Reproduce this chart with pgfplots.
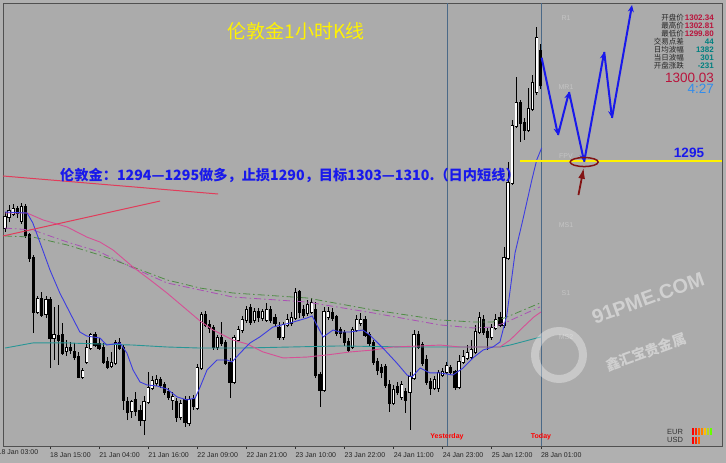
\documentclass[border=0pt]{standalone}
\usepackage{pgfplots}
\pgfplotsset{compat=1.18}
\usepackage{pgfplotstable}
\usepackage{fontspec}
\setmainfont{Liberation Sans}
\newfontfamily\cjk{Noto Sans CJK SC}
\usetikzlibrary{arrows.meta}

\definecolor{chartbg}{RGB}{171,171,171}
\definecolor{outerbg}{RGB}{176,176,176}
\definecolor{frameC}{RGB}{80,80,80}
\definecolor{maBlue}{RGB}{60,60,225}
\definecolor{maPink}{RGB}{214,80,150}
\definecolor{maTeal}{RGB}{40,150,150}
\definecolor{ddGreen}{RGB}{80,140,70}
\definecolor{ddPurple}{RGB}{170,80,180}
\definecolor{trendRed}{RGB}{225,60,90}
\definecolor{sepLine}{RGB}{75,105,135}
\definecolor{pivGray}{RGB}{196,196,196}
\definecolor{crimsonV}{RGB}{185,20,60}
\definecolor{tealV}{RGB}{0,128,128}
\definecolor{clockBlue}{RGB}{50,140,235}
\definecolor{darkArrow}{RGB}{130,20,20}
\definecolor{annBlue}{RGB}{25,25,235}

% hourly OHLC, i = bar index (0 = 18 Jan 04:00)
\pgfplotstableread{
i o h l c
0 1290.53 1291.60 1290.27 1291.27
1 1291.27 1292.07 1290.93 1291.67
2 1291.47 1292.13 1291.33 1291.80
3 1291.80 1292.00 1291.20 1291.53
4 1291.00 1292.20 1290.80 1291.93
5 1291.93 1292.13 1289.87 1290.07
6 1290.07 1290.20 1288.27 1288.53
7 1288.53 1288.73 1283.53 1284.93
8 1284.93 1286.00 1284.80 1285.80
9 1285.80 1286.27 1284.60 1284.73
10 1284.80 1286.00 1284.53 1285.73
11 1285.73 1285.93 1281.20 1283.20
12 1283.20 1285.27 1281.73 1283.40
13 1283.33 1285.40 1281.40 1283.07
14 1283.40 1284.20 1282.07 1282.20
15 1282.33 1283.07 1282.00 1282.53
16 1282.53 1282.93 1282.13 1282.40
17 1282.27 1282.87 1281.73 1281.93
18 1281.93 1282.27 1280.53 1280.60
19 1280.60 1281.20 1280.47 1281.00
20 1281.60 1283.07 1281.47 1282.53
21 1282.53 1283.53 1282.40 1283.40
22 1283.40 1283.60 1282.60 1282.73
23 1282.80 1283.20 1282.40 1282.53
24 1282.53 1282.87 1281.47 1281.60
25 1281.60 1281.93 1281.13 1281.27
26 1281.33 1282.27 1281.20 1281.53
27 1281.53 1283.07 1281.40 1282.87
28 1282.87 1283.20 1282.40 1282.53
29 1282.53 1282.73 1278.40 1279.07
30 1278.93 1279.27 1277.73 1278.27
31 1278.33 1279.07 1277.87 1278.93
32 1279.07 1279.60 1278.00 1278.33
33 1278.33 1278.73 1277.33 1277.73
34 1277.73 1279.33 1276.73 1278.93
35 1278.93 1280.93 1278.80 1279.87
36 1279.87 1280.67 1279.73 1280.33
37 1280.20 1280.73 1280.00 1280.40
38 1280.40 1280.60 1279.87 1280.07
39 1280.07 1280.27 1279.40 1279.60
40 1279.60 1279.87 1279.07 1279.27
41 1279.07 1279.60 1278.40 1279.27
42 1278.93 1279.20 1277.60 1277.93
43 1277.93 1279.07 1277.73 1278.80
44 1279.07 1279.33 1277.27 1277.60
45 1277.53 1279.33 1277.33 1279.07
46 1279.13 1279.40 1278.40 1278.67
47 1278.53 1281.47 1278.40 1281.20
48 1281.20 1284.93 1281.07 1284.73
49 1284.73 1285.00 1283.93 1284.07
50 1284.07 1284.40 1283.53 1283.87
51 1283.87 1284.07 1282.40 1282.60
52 1282.60 1283.40 1282.40 1283.20
53 1283.20 1284.27 1282.67 1282.87
54 1282.87 1283.07 1281.40 1281.53
55 1281.53 1281.87 1279.20 1280.27
56 1280.27 1283.40 1280.13 1283.20
57 1283.07 1284.00 1282.93 1283.73
58 1283.73 1284.67 1283.53 1284.40
59 1284.40 1285.33 1284.20 1285.07
60 1285.20 1285.47 1284.07 1284.27
61 1284.40 1285.20 1284.20 1284.93
62 1284.93 1285.20 1284.27 1284.60
63 1284.53 1285.13 1284.33 1284.93
64 1284.40 1285.53 1284.27 1285.07
65 1285.07 1285.33 1284.20 1284.40
66 1284.53 1284.80 1284.00 1284.20
67 1283.87 1284.27 1283.07 1283.27
68 1283.27 1284.27 1283.07 1284.07
69 1284.07 1284.80 1283.93 1284.40
70 1284.20 1284.93 1284.00 1284.53
71 1284.53 1286.53 1284.40 1286.20
72 1286.27 1286.40 1284.53 1284.93
73 1285.07 1285.40 1284.53 1284.73
74 1284.87 1285.73 1284.67 1285.40
75 1284.93 1285.87 1284.80 1285.53
76 1285.07 1285.60 1280.53 1280.73
77 1280.73 1280.93 1278.60 1279.73
78 1279.73 1285.27 1279.60 1284.93
79 1284.60 1285.27 1284.40 1284.93
80 1284.87 1285.20 1284.33 1284.53
81 1284.60 1284.73 1283.33 1283.53
82 1283.73 1283.93 1283.20 1283.53
83 1283.53 1283.73 1282.67 1282.93
84 1282.93 1283.20 1282.27 1282.40
85 1282.60 1283.93 1282.47 1283.73
86 1283.73 1284.73 1283.60 1284.40
87 1284.20 1284.87 1284.00 1284.40
88 1284.40 1284.67 1283.27 1283.40
89 1283.40 1283.60 1282.67 1282.87
90 1282.87 1283.07 1281.40 1281.60
91 1281.60 1281.87 1280.73 1281.07
92 1281.20 1281.47 1280.53 1280.93
93 1281.27 1281.47 1279.87 1280.07
94 1280.07 1280.40 1278.27 1278.87
95 1278.87 1280.07 1278.73 1279.73
96 1279.93 1280.27 1279.40 1279.60
97 1279.27 1280.33 1279.07 1280.07
98 1279.60 1279.87 1278.20 1279.07
99 1279.60 1280.93 1277.07 1280.60
100 1280.53 1283.73 1280.40 1283.40
101 1283.40 1283.67 1282.47 1282.60
102 1282.73 1282.93 1281.33 1281.53
103 1281.73 1282.07 1280.07 1280.27
104 1280.27 1280.53 1279.40 1279.87
105 1279.87 1280.67 1279.73 1280.40
106 1279.87 1281.07 1279.60 1280.87
107 1280.73 1281.20 1280.60 1280.93
108 1280.93 1281.60 1280.80 1281.33
109 1281.20 1281.40 1280.73 1280.93
110 1280.93 1281.07 1279.73 1279.93
111 1279.93 1282.07 1279.80 1281.60
112 1281.60 1282.40 1281.47 1281.93
113 1281.87 1282.73 1281.73 1282.20
114 1281.93 1283.07 1281.80 1282.40
115 1282.27 1284.07 1282.13 1283.60
116 1283.60 1284.93 1283.47 1284.53
117 1284.40 1284.73 1283.40 1283.60
118 1283.60 1283.87 1282.40 1283.27
119 1283.27 1284.13 1283.07 1283.87
120 1283.87 1284.80 1283.73 1284.40
121 1284.53 1284.93 1283.93 1284.07
122 1284.07 1289.27 1283.87 1288.53
123 1288.53 1294.93 1288.40 1293.53
124 1293.53 1297.73 1293.40 1297.33
125 1297.33 1300.60 1297.20 1298.87
126 1298.87 1299.07 1296.27 1297.53
127 1297.53 1297.87 1296.40 1297.07
128 1297.07 1299.87 1296.93 1298.47
129 1298.47 1300.73 1298.33 1300.20
130 1299.60 1303.93 1299.40 1303.20
131 1302.34 1302.81 1299.80 1300.03
}\candles

\begin{document}
\begin{tikzpicture}
\useasboundingbox (-3pt,-17pt) rectangle (723pt,446pt);
\clip (-3pt,-17pt) rectangle (723pt,446pt);
\fill[outerbg] (-3pt,-17pt) rectangle (723pt,446pt);
\begin{axis}[
    at={(0pt,0pt)}, anchor=south west,
    width=719pt, height=443pt, scale only axis,
    xmin=-0.49, xmax=175.3, ymin=1276, ymax=1305.533,
    axis background/.style={fill=chartbg},
    axis line style={draw=frameC, line width=0.8pt},
    ytick=\empty,
    xtick={11,23,...,131},
    xticklabels={18 Jan 15:00, 21 Jan 04:00, 21 Jan 16:00, 22 Jan 09:00, 22 Jan 21:00,
        23 Jan 10:00, 23 Jan 22:00, 24 Jan 11:00, 24 Jan 23:00, 25 Jan 12:00, 28 Jan 01:00},
    xtick pos=left,
    tick align=outside,
    major tick length=3pt,
    tick style={draw=black!80, line width=0.6pt},
    xticklabel style={anchor=north west, font=\fontsize{7}{8}\selectfont,
        text=black!85, inner sep=0pt, yshift=-3pt},
    clip=false,
]
% day separators
\draw[sepLine, line width=0.8pt] (axis cs:108.07,1276) -- (axis cs:108.07,1305.533);
\draw[sepLine, line width=0.8pt] (axis cs:131.2,1276) -- (axis cs:131.2,1305.533);

% candles: wicks, dark body, white inside for rising bars
\addplot[black, line width=0.8pt, quiver={u=0, v=\thisrow{h}-\thisrow{l}}]
    table[x=i, y=l] {\candles};
\addplot[black, line width=3.2pt, quiver={u=0, v={abs(\thisrow{c}-\thisrow{o})+0.08}}]
    table[x=i, y expr={min(\thisrow{o},\thisrow{c})-0.04}] {\candles};
\addplot[white, line width=1.6pt, quiver={u=0, v=\thisrow{c}-\thisrow{o}},
    x filter/.expression={\thisrow{c}>\thisrow{o} ? x : nan}]
    table[x=i, y=o] {\candles};

% dash-dot averages
\addplot[ddPurple, line width=0.8pt, dash pattern=on 7pt off 3pt on 1.5pt off 3pt] coordinates {
(0,1290.53) (6.8,1290.40) (15.2,1289.60) (23.2,1288.93) (31.3,1287.87) (39.6,1286.87)
(47.7,1286.40) (55.7,1285.93) (73.8,1285.60) (90.0,1284.87) (106.4,1284.07)
(114.4,1283.87) (119.3,1283.93) (122.7,1284.27) (130.8,1285.27)};
\addplot[ddGreen, line width=0.8pt, dash pattern=on 7pt off 3pt on 1.5pt off 3pt] coordinates {
(0,1290.00) (6.8,1289.93) (15.2,1289.40) (23.2,1288.73) (31.3,1287.93) (39.6,1287.07)
(47.7,1286.53) (55.7,1286.20) (73.8,1285.87) (90.0,1285.07) (106.4,1284.40)
(114.4,1284.27) (119.3,1284.27) (122.7,1284.60) (130.8,1285.53)};
% teal
\addplot[maTeal, line width=0.9pt] coordinates {
(0,1282.53) (6.8,1282.87) (15.2,1282.87) (23.2,1282.80) (31.3,1282.73) (39.6,1282.60)
(47.7,1282.53) (58,1282.53) (81.9,1282.67) (98.3,1282.60) (114.4,1282.60) (121,1282.60)
(123.5,1282.73) (131,1283.27)};
% pink
\addplot[maPink, line width=0.9pt] coordinates {
(0,1291.53) (5.4,1291.53) (9.3,1291.07) (15.2,1290.60) (20.0,1289.93) (23.2,1289.60)
(26.4,1289.07) (31.3,1287.93) (35.5,1287.07) (39.6,1286.20) (44.5,1285.07) (47.7,1284.33)
(50.9,1283.73) (55.7,1283.07) (59.2,1282.80) (63.1,1282.27) (68.0,1281.87) (73.8,1281.93)
(78.7,1282.07) (84.4,1282.27) (90.0,1282.40) (94.9,1282.60) (101.5,1282.67) (106.4,1282.73)
(111.2,1282.60) (116.1,1282.60) (121.0,1282.60) (123.5,1283.07) (126.7,1283.93)
(129.3,1284.60) (131.0,1284.93)};
% blue fast average
\addplot[maBlue, line width=0.9pt] coordinates {
(0,1291.60) (5.4,1291.53) (6.8,1290.87) (8.6,1289.53) (11.0,1287.73) (13.4,1286.20)
(15.9,1284.87) (18.3,1283.60) (20.0,1283.33) (23.2,1283.20) (24.9,1282.73) (28.1,1282.87)
(29.8,1282.20) (31.3,1281.07) (33.0,1280.27) (34.7,1280.07) (37.2,1280.00) (39.6,1279.80)
(42.1,1279.27) (44.5,1279.07) (46.5,1279.20) (47.7,1279.93) (49.4,1281.07) (51.8,1281.73)
(54.3,1281.73) (55.5,1281.60) (57.5,1282.20) (59.9,1282.87) (62.3,1283.27) (65.5,1283.93)
(69.7,1284.20) (73.8,1284.53) (75.1,1284.67) (76.5,1283.93) (77.8,1283.27) (80.2,1283.73)
(81.9,1283.60) (84.4,1283.60) (87.5,1283.73) (89.2,1283.40) (92.4,1282.53) (95.8,1281.53)
(98.3,1280.73) (99.5,1280.60) (101.5,1281.20) (103.9,1280.87) (106.4,1280.87) (109.5,1280.73)
(112.0,1281.20) (114.4,1281.87) (116.9,1282.40) (119.3,1282.60) (121.0,1282.93) (122.7,1284.73)
(124.7,1288.87) (126.6,1291.07) (128.8,1293.73) (130.0,1295.07) (131.2,1295.87)};

% trend lines
\addplot[trendRed, line width=1pt] coordinates {(-0.49,1294.00) (52.1,1292.80)};
\addplot[trendRed, line width=1pt] coordinates {(-0.49,1290.00) (37.9,1292.33)};

% 1295 level
\addplot[yellow, line width=1.5pt] coordinates {(125.9,1295) (175.3,1295)};

% projected path
\addplot[annBlue, line width=2pt, -{Stealth[length=7pt,width=6pt]}] coordinates {(131.2,1301.89) (135.2,1296.73)};
\addplot[annBlue, line width=2pt, -{Stealth[length=7pt,width=6pt]}] coordinates {(135.2,1296.73) (137.9,1299.60)};
\addplot[annBlue, line width=2pt, -{Stealth[length=7pt,width=6pt]}] coordinates {(137.9,1299.60) (141.6,1294.95)};
\addplot[annBlue, line width=2pt, -{Stealth[length=7pt,width=6pt]}] coordinates {(141.6,1294.95) (146.5,1302.27)};
\addplot[annBlue, line width=2pt, -{Stealth[length=7pt,width=6pt]}] coordinates {(146.5,1302.27) (148.4,1297.87)};
\addplot[annBlue, line width=2pt, -{Stealth[length=7pt,width=6pt]}] coordinates {(148.4,1297.87) (153.3,1305.40)};

\draw[darkArrow, line width=1.5pt] (axis cs:141.6,1294.93) ellipse [x radius=14pt, y radius=4.5pt];
\addplot[darkArrow, line width=1.8pt, -{Latex[length=11pt,width=7pt]}] coordinates {(140.2,1292.73) (141.5,1294.55)};
\end{axis}

% text, placed in picture pixels (origin top left)
\begin{scope}[x=1pt, y=-1pt, shift={(-3pt,446pt)}]
\node[anchor=north west, font=\fontsize{7}{8}\selectfont, text=black!85, inner sep=0pt] at (-2.5,449) {18 Jan 03:00};

\node[text=yellow, font=\cjk\fontsize{19}{19}\selectfont] at (296,31) {伦敦金1小时K线};
\node[anchor=west, text=annBlue, font=\cjk\bfseries\fontsize{14.2}{15}\selectfont, inner sep=0pt]
    at (60,175) {伦敦金：1294—1295做多，止损1290，目标1303—1310.（日内短线）};
\node[text=annBlue, font=\bfseries\fontsize{13.5}{14}\selectfont] at (689,153) {1295};

\foreach \t/\yy in {R1/18, MR1/87, FPV/156, MS1/225, S1/293, MS2/337}
    \node[text=pivGray, font=\fontsize{7}{8}\selectfont] at (566,\yy) {\t};

\foreach \t/\yy in {开盘价/18, 最高价/26, 最低价/34, 交易点差/42, 日均波幅/50, 当日波幅/58, 开盘涨跌/66}
    \node[anchor=east, inner sep=0pt, text=black!85, font=\cjk\fontsize{7.5}{8}\selectfont] at (684,\yy) {\t};
\foreach \v/\yy in {1302.34/18, 1302.81/26, 1299.80/34}
    \node[anchor=east, inner sep=0pt, text=crimsonV, font=\bfseries\fontsize{8}{9}\selectfont] at (714,\yy) {\v};
\foreach \v/\yy in {44/42, 1382/50, 301/58, -231/66}
    \node[anchor=east, inner sep=0pt, text=tealV, font=\bfseries\fontsize{8}{9}\selectfont] at (714,\yy) {\v};
\node[anchor=east, inner sep=0pt, text=crimsonV, font=\fontsize{13.5}{14}\selectfont] at (714,78) {1300.03};
\node[anchor=east, inner sep=0pt, text=clockBlue, font=\fontsize{13.5}{14}\selectfont] at (714,89) {4:27};

\node[text=red, font=\bfseries\fontsize{7}{7}\selectfont] at (447,437) {Yesterday};
\node[text=red, font=\bfseries\fontsize{7}{7}\selectfont] at (541,437) {Today};

\node[anchor=west, inner sep=0pt, text=black!80, font=\fontsize{7.5}{8}\selectfont] at (667,432) {EUR};
\node[anchor=west, inner sep=0pt, text=black!80, font=\fontsize{7.5}{8}\selectfont] at (667,440) {USD};
\foreach \k/\cc in {0/red, 1/red!70!orange, 2/orange!80!red, 3/orange, 4/orange!50!yellow, 5/yellow!70!green, 6/green!60!yellow}
    \fill[\cc] (692+3*\k,428) rectangle (694+3*\k,435);
\foreach \k/\cc in {0/red, 1/red!70!orange, 2/orange!80!red}
    \fill[\cc] (692+3*\k,437) rectangle (694+3*\k,444);

% watermark
\draw[white, opacity=0.35, line width=8pt] (559,355) circle (24);
\node[text=white, opacity=0.45, rotate=20, font=\bfseries\fontsize{20}{20}\selectfont] at (648,298) {91PME.COM};
\node[text=white, opacity=0.45, rotate=20, font=\cjk\bfseries\fontsize{14}{14}\selectfont] at (646,352) {鑫汇宝贵金属};
\end{scope}
\end{tikzpicture}
\end{document}
